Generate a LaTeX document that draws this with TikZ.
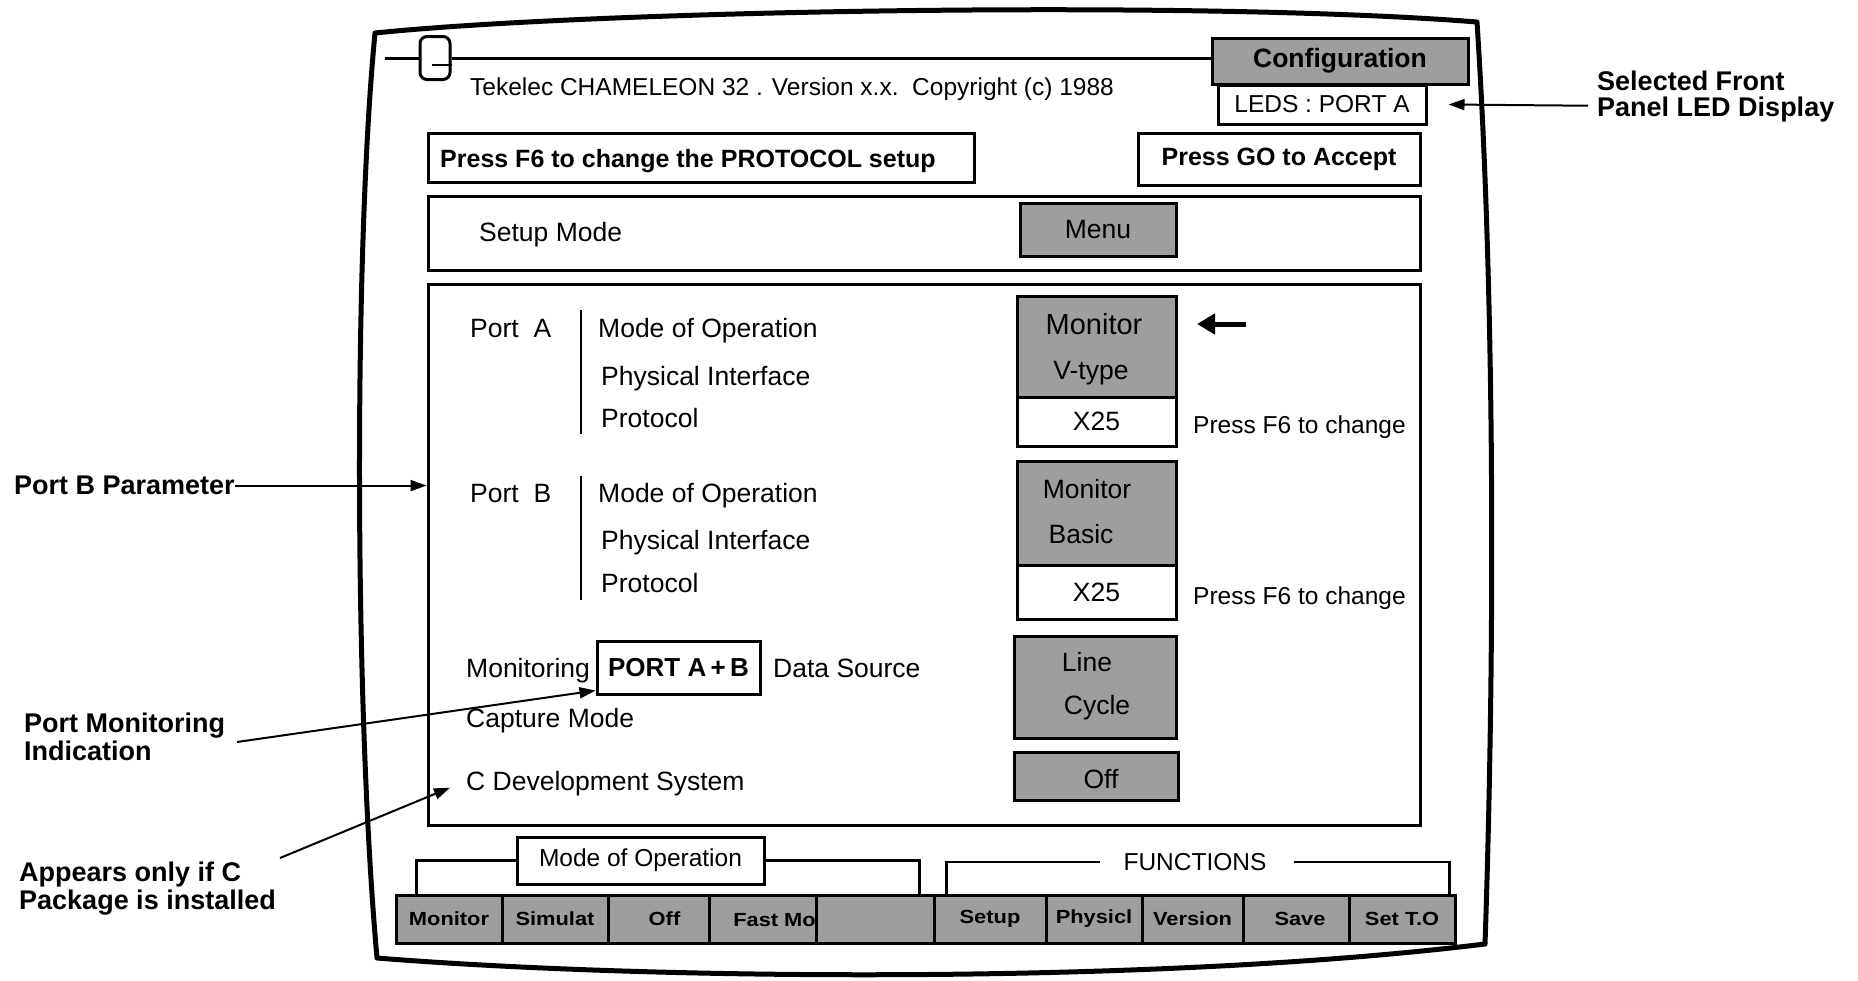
\documentclass[tikz,border=0pt]{standalone}
\usepackage{fontspec}
\setmainfont{Liberation Sans}
\newfontfamily\keyfont[FakeStretch=1.15]{Liberation Sans Bold}
\usetikzlibrary{arrows.meta}
\newcommand\fsBody{\fontsize{26.5}{30}\selectfont}
\newcommand\fsHead{\fontsize{24.5}{28}\selectfont}
\newcommand\fsSmall{\fontsize{24.5}{28}\selectfont}
\newcommand\fsAnn{\bfseries\fontsize{27}{27}\selectfont}
\newcommand\fsKey{\keyfont\fontsize{19}{20}\selectfont}
\begin{document}
\begin{tikzpicture}[x=1pt,y=-1pt,
  frame/.style={line width=5pt,line join=round},
  box/.style={draw,line width=3pt,inner sep=0pt,font=\fsBody},
  shadebox/.style={box,fill=black!38},
  keybox/.style={shadebox,minimum height=48,font=\fsKey},
  txt/.style={inner sep=0pt,anchor=base west,font=\fsBody},
  ctxt/.style={inner sep=0pt,anchor=base,font=\fsBody},
  ann/.style={inner sep=0pt,anchor=base west,font=\fsAnn},
  arr/.style={line width=2pt,-{Triangle[length=16pt,width=11pt]}},
  bigarr/.style={line width=5pt,-{Triangle[length=18pt,width=20pt]}},
  brk/.style={line width=2.5pt},
  bar/.style={line width=2.5pt}]
\useasboundingbox (0,0) rectangle (1858,980);

% screen outline
\draw[frame] (375,33) .. controls (600,10) and (1200,0) .. (1477,22)
  .. controls (1495,300) and (1495,650) .. (1485,944)
  .. controls (1150,985) and (650,980) .. (377,958)
  .. controls (354,700) and (354,250) .. cycle;

% title line with knob
\node[draw,line width=3pt,rounded corners=7pt,minimum width=30,minimum height=43,inner sep=0pt] (knob) at (435,58) {};
\coordinate (tl0) at (385,58);
\node[shadebox,minimum width=256,minimum height=46,font=\bfseries\fsBody] (conf) at (1340,61) {Configuration};
\draw[line width=3pt] (tl0) -- (knob.west);
\draw[line width=3pt] (knob.east) -- (knob.east -| conf.west);
\draw[line width=2.5pt] (432,65) -- (knob.east |- 0,65);
\node[txt,font=\fsHead] (hdr) at (470,95) {Tekelec CHAMELEON 32 . Version x.x.\ \ Copyright (c) 1988};

\node[box,minimum width=208,minimum height=39,font=\fsSmall] (leds) at (1322,104.5) {LEDS : PORT A};

% top boxes
\node[box,minimum width=546,minimum height=49] (pf6) at (701,157.5) {};
\node[txt,font=\bfseries\fontsize{25}{28}\selectfont] (pf6t) at (440,167) {Press F6 to change the PROTOCOL setup};
\node[box,minimum width=282,minimum height=52,font=\bfseries\fontsize{25}{28}\selectfont] (pgo) at (1279,159) {Press GO to Accept};

\node[box,minimum width=992,minimum height=74] (setup) at (924,233) {};
\node[txt] (setupt) at (479,241.5) {Setup Mode};
\node[shadebox,minimum width=156,minimum height=53] (menu) at (1098,229.5) {Menu};

% main panel
\node[box,minimum width=992,minimum height=541] (main) at (924,554.5) {};

% Port A
\node[txt] (porta) at (470,337.5) {Port~~A};
\draw[bar] (581,310) -- (581,434);
\node[txt] (pamo) at (598,337.5) {Mode of Operation};
\node[txt] (papi) at (601,385.5) {Physical Interface};
\node[txt] (papr) at (601,427.5) {Protocol};
\node[shadebox,minimum width=159,minimum height=101] (pa) at (1096.5,346.5) {};
\node[ctxt,font=\fontsize{29}{30}\selectfont] (paM) at (1094,334.5) {Monitor};
\node[ctxt] (paV) at (1091,379) {V-type};
\node[box,minimum width=159,minimum height=49] (pax) at (1096.5,421.5) {X25};
\node[txt,font=\fsSmall] (pac) at (1193,433) {Press F6 to change};
\coordinate (ma1) at (1246,324);
\coordinate (ma2) at (1197,324);
\draw[bigarr] (ma1) -- (ma2);

% Port B
\node[txt] (portb) at (470,502.5) {Port~~B};
\draw[bar] (581,476) -- (581,600);
\node[txt] (pbmo) at (598,502.5) {Mode of Operation};
\node[txt] (pbpi) at (601,549.5) {Physical Interface};
\node[txt] (pbpr) at (601,592.5) {Protocol};
\node[shadebox,minimum width=159,minimum height=104] (pb) at (1096.5,513) {};
\node[ctxt] (pbM) at (1087,498.5) {Monitor};
\node[ctxt] (pbB) at (1081,543.5) {Basic};
\node[box,minimum width=159,minimum height=54] (pbx) at (1096.5,592) {X25};
\node[txt,font=\fsSmall] (pbc) at (1193,604) {Press F6 to change};

% monitoring
\node[txt] (mon) at (466,677.5) {Monitoring};
\node[box,minimum width=163,minimum height=53,font=\bfseries\fontsize{26}{30}\selectfont] (pab) at (678.5,667.5) {PORT A\,+\,B};
\node[txt] (dsrc) at (773,677.5) {Data Source};
\node[txt] (capt) at (466,727.5) {Capture Mode};
\node[shadebox,minimum width=162,minimum height=102] (lc) at (1095,687) {};
\node[ctxt] (lcL) at (1087,671.5) {Line};
\node[ctxt] (lcC) at (1097,714.5) {Cycle};
\node[txt] (cdev) at (466,790.5) {C Development System};
\node[shadebox,minimum width=164,minimum height=48] (off) at (1096,776) {};
\node[ctxt] (offt) at (1101,788.5) {Off};

% bottom labels and keys
\node[box,minimum width=247,minimum height=47,font=\fsSmall] (mopb) at (640.5,860.5) {Mode of Operation};
\node[inner sep=0pt,font=\fsSmall] (func) at (1195,862) {FUNCTIONS};
\node[keybox,minimum width=106] (k1) at (449,919) {Monitor};
\node[keybox,minimum width=106] (k2) at (555,919) {Simulat};
\node[keybox,minimum width=101] (k3) at (658.5,919) {\hspace{12pt}Off};
\node[keybox,minimum width=107] (k4) at (762.5,919) {};
\node[inner sep=0pt,anchor=east,font=\fsKey] (k4t) at (816,920) {Fast Mo};
\node[keybox,minimum width=118] (k5) at (875,919) {};
\node[keybox,minimum width=112] (k6) at (990,919) {Setup};
\node[keybox,minimum width=96] (k7) at (1094,919) {Physicl};
\node[keybox,minimum width=101] (k8) at (1192.5,919) {Version};
\node[keybox,minimum width=106] (k9) at (1296,919) {\hspace{8pt}Save};
\node[keybox,minimum width=106] (k10) at (1402,919) {Set T.O};
\draw[brk] ([xshift=22pt]k1.north west) |- (mopb.west);
\draw[brk] (mopb.east) -| ([xshift=-16pt]k5.north east);
\draw[brk] ([xshift=-23pt]func.west) -| ([xshift=14pt]k6.north west);
\draw[brk] ([xshift=27pt]func.east) -| ([xshift=-7pt]k10.north east);

% annotations
\node[ann] (sel1) at (1597,90.7) {Selected Front};
\node[ann] (sel2) at (1597,116.7) {Panel LED Display};
\draw[arr] ([xshift=-9pt,yshift=4pt]sel2.west) -- ([xshift=21pt]leds.east);

\node[ann] (pbp) at (14,494.7) {Port B Parameter};
\draw[arr] (pbp.east) -- (pbp.east -| main.west);

\node[ann] (pm1) at (24,732.7) {Port Monitoring};
\node[ann] (pm2) at (24,760.7) {Indication};
\coordinate (pmA) at (237,742);
\draw[arr] (pmA) -- ([yshift=5pt]pab.south west);

\node[ann] (ap1) at (19,881) {Appears only if C};
\node[ann] (ap2) at (19,909) {Package is installed};
\coordinate (apA) at (280,858);
\draw[arr] (apA) -- ([xshift=-16pt,yshift=-4pt]cdev.west);
\end{tikzpicture}
\end{document}
